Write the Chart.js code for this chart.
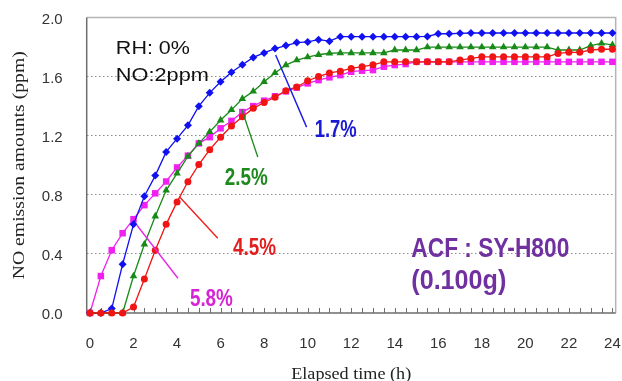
<!DOCTYPE html>
<html>
<head>
<meta charset="utf-8">
<script src="https://cdn.jsdelivr.net/npm/chart.js@4.4.1/dist/chart.umd.min.js"></script>
<style>
  html, body { margin: 0; padding: 0; background: #fff; }
</style>
</head>
<body>
<canvas id="chart" width="622" height="381"></canvas>
<script>
// elapsed time (h), one reading every half hour
const hours = [0, 0.5, 1, 1.5, 2, 2.5, 3, 3.5, 4, 4.5, 5, 5.5, 6, 6.5, 7, 7.5, 8, 8.5, 9, 9.5,
  10, 10.5, 11, 11.5, 12, 12.5, 13, 13.5, 14, 14.5, 15, 15.5, 16, 16.5, 17, 17.5, 18, 18.5, 19, 19.5,
  20, 20.5, 21, 21.5, 22, 22.5, 23, 23.5, 24];
const yTicks = [0, 0.4, 0.8, 1.2, 1.6, 2.0];

// NO emission (ppm) per sample
const no17 = [0, 0, 0.03, 0.33, 0.60, 0.79, 0.93, 1.09, 1.18, 1.27, 1.40, 1.49, 1.565, 1.63, 1.68, 1.73, 1.76, 1.79, 1.81, 1.83,
  1.835, 1.85, 1.84, 1.87, 1.87, 1.87, 1.87, 1.87, 1.87, 1.87, 1.87, 1.872, 1.89, 1.89, 1.893, 1.895, 1.895, 1.895, 1.895, 1.895,
  1.895, 1.895, 1.895, 1.895, 1.895, 1.895, 1.895, 1.895, 1.895];
const no25 = [0, 0, 0, 0, 0.25, 0.465, 0.655, 0.83, 0.945, 1.06, 1.148, 1.226, 1.305, 1.375, 1.45, 1.50, 1.565, 1.625, 1.678, 1.712,
  1.732, 1.748, 1.758, 1.76, 1.76, 1.76, 1.76, 1.76, 1.78, 1.78, 1.78, 1.80, 1.80, 1.80, 1.80, 1.80, 1.80, 1.80, 1.80, 1.80,
  1.80, 1.80, 1.80, 1.78, 1.78, 1.78, 1.81, 1.825, 1.815];
const no45 = [0, 0, 0, 0, 0.04, 0.23, 0.425, 0.60, 0.752, 0.888, 1.005, 1.105, 1.19, 1.265, 1.328, 1.385, 1.425, 1.46, 1.505, 1.53,
  1.572, 1.60, 1.625, 1.637, 1.655, 1.667, 1.68, 1.70, 1.70, 1.70, 1.70, 1.70, 1.70, 1.70, 1.712, 1.723, 1.734, 1.734, 1.734, 1.734,
  1.734, 1.734, 1.734, 1.757, 1.764, 1.764, 1.78, 1.785, 1.785];
const no58 = [0, 0.25, 0.425, 0.54, 0.635, 0.73, 0.81, 0.89, 0.985, 1.065, 1.148, 1.19, 1.25, 1.30, 1.36, 1.40, 1.437, 1.467, 1.50, 1.525,
  1.554, 1.576, 1.595, 1.61, 1.633, 1.64, 1.644, 1.667, 1.678, 1.685, 1.70, 1.70, 1.70, 1.70, 1.70, 1.70, 1.70, 1.70, 1.70, 1.70,
  1.70, 1.70, 1.70, 1.70, 1.70, 1.70, 1.70, 1.70, 1.70];

const pts = arr => arr.map((v, i) => ({ x: hours[i], y: v }));

// leader lines, in (h, ppm)
const leaders = [
  { color: "#1a1ae6", from: [8.53, 1.746], to: [9.95, 1.258] },
  { color: "#1e8a1e", from: [6.97, 1.38], to: [7.71, 1.055] },
  { color: "#ee2020", from: [4.13, 0.784], to: [5.87, 0.506] },
  { color: "#e628e6", from: [2.16, 0.594], to: [4.04, 0.235] }
];

// text notes: left edge / baseline in (h, ppm), w = width in px
const notes = [
  { text: "RH: 0%", at: [1.19, 1.751], w: 74, font: "19px 'Liberation Sans'", color: "#111" },
  { text: "NO:2ppm", at: [1.19, 1.570], w: 93, font: "19px 'Liberation Sans'", color: "#111" },
  { text: "1.7%", at: [10.32, 1.190], w: 42, font: "bold 23px 'Liberation Sans'", color: "#1a1ad6" },
  { text: "2.5%", at: [6.19, 0.865], w: 43, font: "bold 23px 'Liberation Sans'", color: "#1e8a1e" },
  { text: "4.5%", at: [6.57, 0.391], w: 43, font: "bold 23px 'Liberation Sans'", color: "#e21e1e" },
  { text: "5.8%", at: [4.59, 0.045], w: 43, font: "bold 23px 'Liberation Sans'", color: "#d524d5" },
  { text: "ACF : SY-H800", at: [14.76, 0.38], w: 158, font: "bold 28px 'Liberation Sans'", color: "#7030a0" },
  { text: "(0.100g)", at: [14.76, 0.165], w: 95, font: "bold 28px 'Liberation Sans'", color: "#7030a0" }
];

function fitText(ctx, text, x, y, w) {
  const m = ctx.measureText(text).width;
  ctx.save();
  ctx.translate(x, y);
  ctx.scale(w / m, 1);
  ctx.fillText(text, 0, 0);
  ctx.restore();
}

const extras = {
  id: "extras",
  beforeDatasetsDraw(c) {
    const { ctx, chartArea: a, scales: { x } } = c;
    ctx.save();
    ctx.lineWidth = 1.5;
    ctx.strokeStyle = "#b4b4b4";
    ctx.beginPath();
    ctx.moveTo(a.left, a.top); ctx.lineTo(a.right, a.top); ctx.lineTo(a.right, a.bottom);
    ctx.stroke();
    ctx.strokeStyle = "#6e6e6e";
    ctx.beginPath();
    ctx.moveTo(a.left, a.top); ctx.lineTo(a.left, a.bottom); ctx.lineTo(a.right, a.bottom);
    ctx.stroke();
    // small inward ticks every half hour
    ctx.lineWidth = 1;
    hours.forEach(h => {
      const px = Math.round(x.getPixelForValue(h)) + 0.5;
      ctx.beginPath();
      ctx.moveTo(px, a.bottom);
      ctx.lineTo(px, a.bottom - 5);
      ctx.stroke();
    });
    ctx.restore();
  },
  afterDatasetsDraw(c) {
    const { ctx, chartArea: a, scales: { x, y } } = c;
    ctx.save();
    ctx.lineWidth = 1.4;
    leaders.forEach(l => {
      ctx.strokeStyle = l.color;
      ctx.beginPath();
      ctx.moveTo(x.getPixelForValue(l.from[0]), y.getPixelForValue(l.from[1]));
      ctx.lineTo(x.getPixelForValue(l.to[0]), y.getPixelForValue(l.to[1]));
      ctx.stroke();
    });
    ctx.textBaseline = "alphabetic";
    ctx.textAlign = "left";
    notes.forEach(n => {
      ctx.font = n.font;
      ctx.fillStyle = n.color;
      fitText(ctx, n.text, x.getPixelForValue(n.at[0]), y.getPixelForValue(n.at[1]), n.w);
    });

    // axis titles
    ctx.fillStyle = "#222";
    ctx.font = "17px 'Liberation Serif'";
    fitText(ctx, "Elapsed time (h)", (a.left + a.right) / 2 - 60, 379, 120);
    ctx.save();
    ctx.translate(24, (a.top + a.bottom) / 2);
    ctx.rotate(-Math.PI / 2);
    fitText(ctx, "NO emission amounts (ppm)", -114, 0, 228);
    ctx.restore();
    ctx.restore();
  }
};

const line = (data, color, style, r) => ({
  data: pts(data),
  borderColor: color,
  backgroundColor: color,
  borderWidth: 1.3,
  pointStyle: style,
  pointRadius: r,
  pointBorderWidth: 0,
  pointHoverRadius: r,
  tension: 0,
  clip: false
});

new Chart(document.getElementById("chart"), {
  type: "line",
  data: {
    datasets: [
      line(no45, "#f01414", "circle", 3.5),
      line(no25, "#178a17", "triangle", 4.4),
      line(no17, "#1010f0", "rectRot", 4.0),
      line(no58, "#f020f0", "rect", 4.6)
    ]
  },
  options: {
    responsive: false,
    animation: false,
    events: [],
    layout: { padding: { top: 17.5, right: 6.3, left: 0, bottom: 0 } },
    plugins: { legend: { display: false }, tooltip: { enabled: false } },
    scales: {
      x: {
        type: "linear",
        min: -0.15,
        max: 24.15,
        afterBuildTicks: s => { s.ticks = hours.map(v => ({ value: v })); },
        afterFit: s => { s.height = 68; s.paddingLeft = 0; s.paddingRight = 0; },
        grid: { display: false },
        border: { display: false },
        ticks: {
          autoSkip: false,
          maxRotation: 0,
          padding: 14,
          color: "#333",
          font: { family: "'Liberation Sans'", size: 15 },
          callback: v => (v % 2 === 0 ? String(v) : "")
        }
      },
      y: {
        min: 0,
        max: 2,
        afterBuildTicks: s => { s.ticks = yTicks.map(v => ({ value: v })); },
        afterFit: s => { s.width = 86.7; s.paddingTop = 0; s.paddingBottom = 0; },
        grid: {
          drawTicks: false,
          lineWidth: 1,
          color: c => (c.tick && c.tick.value > 0 && c.tick.value < 2 ? "#8c8c8c" : "rgba(0,0,0,0)")
        },
        border: { display: false, dash: [1.5, 2.5] },
        ticks: {
          padding: 24,
          labelOffset: 2,
          color: "#333",
          font: { family: "'Liberation Sans'", size: 15 },
          callback: v => v.toFixed(1)
        }
      }
    }
  },
  plugins: [extras]
});
</script>
</body>
</html>
